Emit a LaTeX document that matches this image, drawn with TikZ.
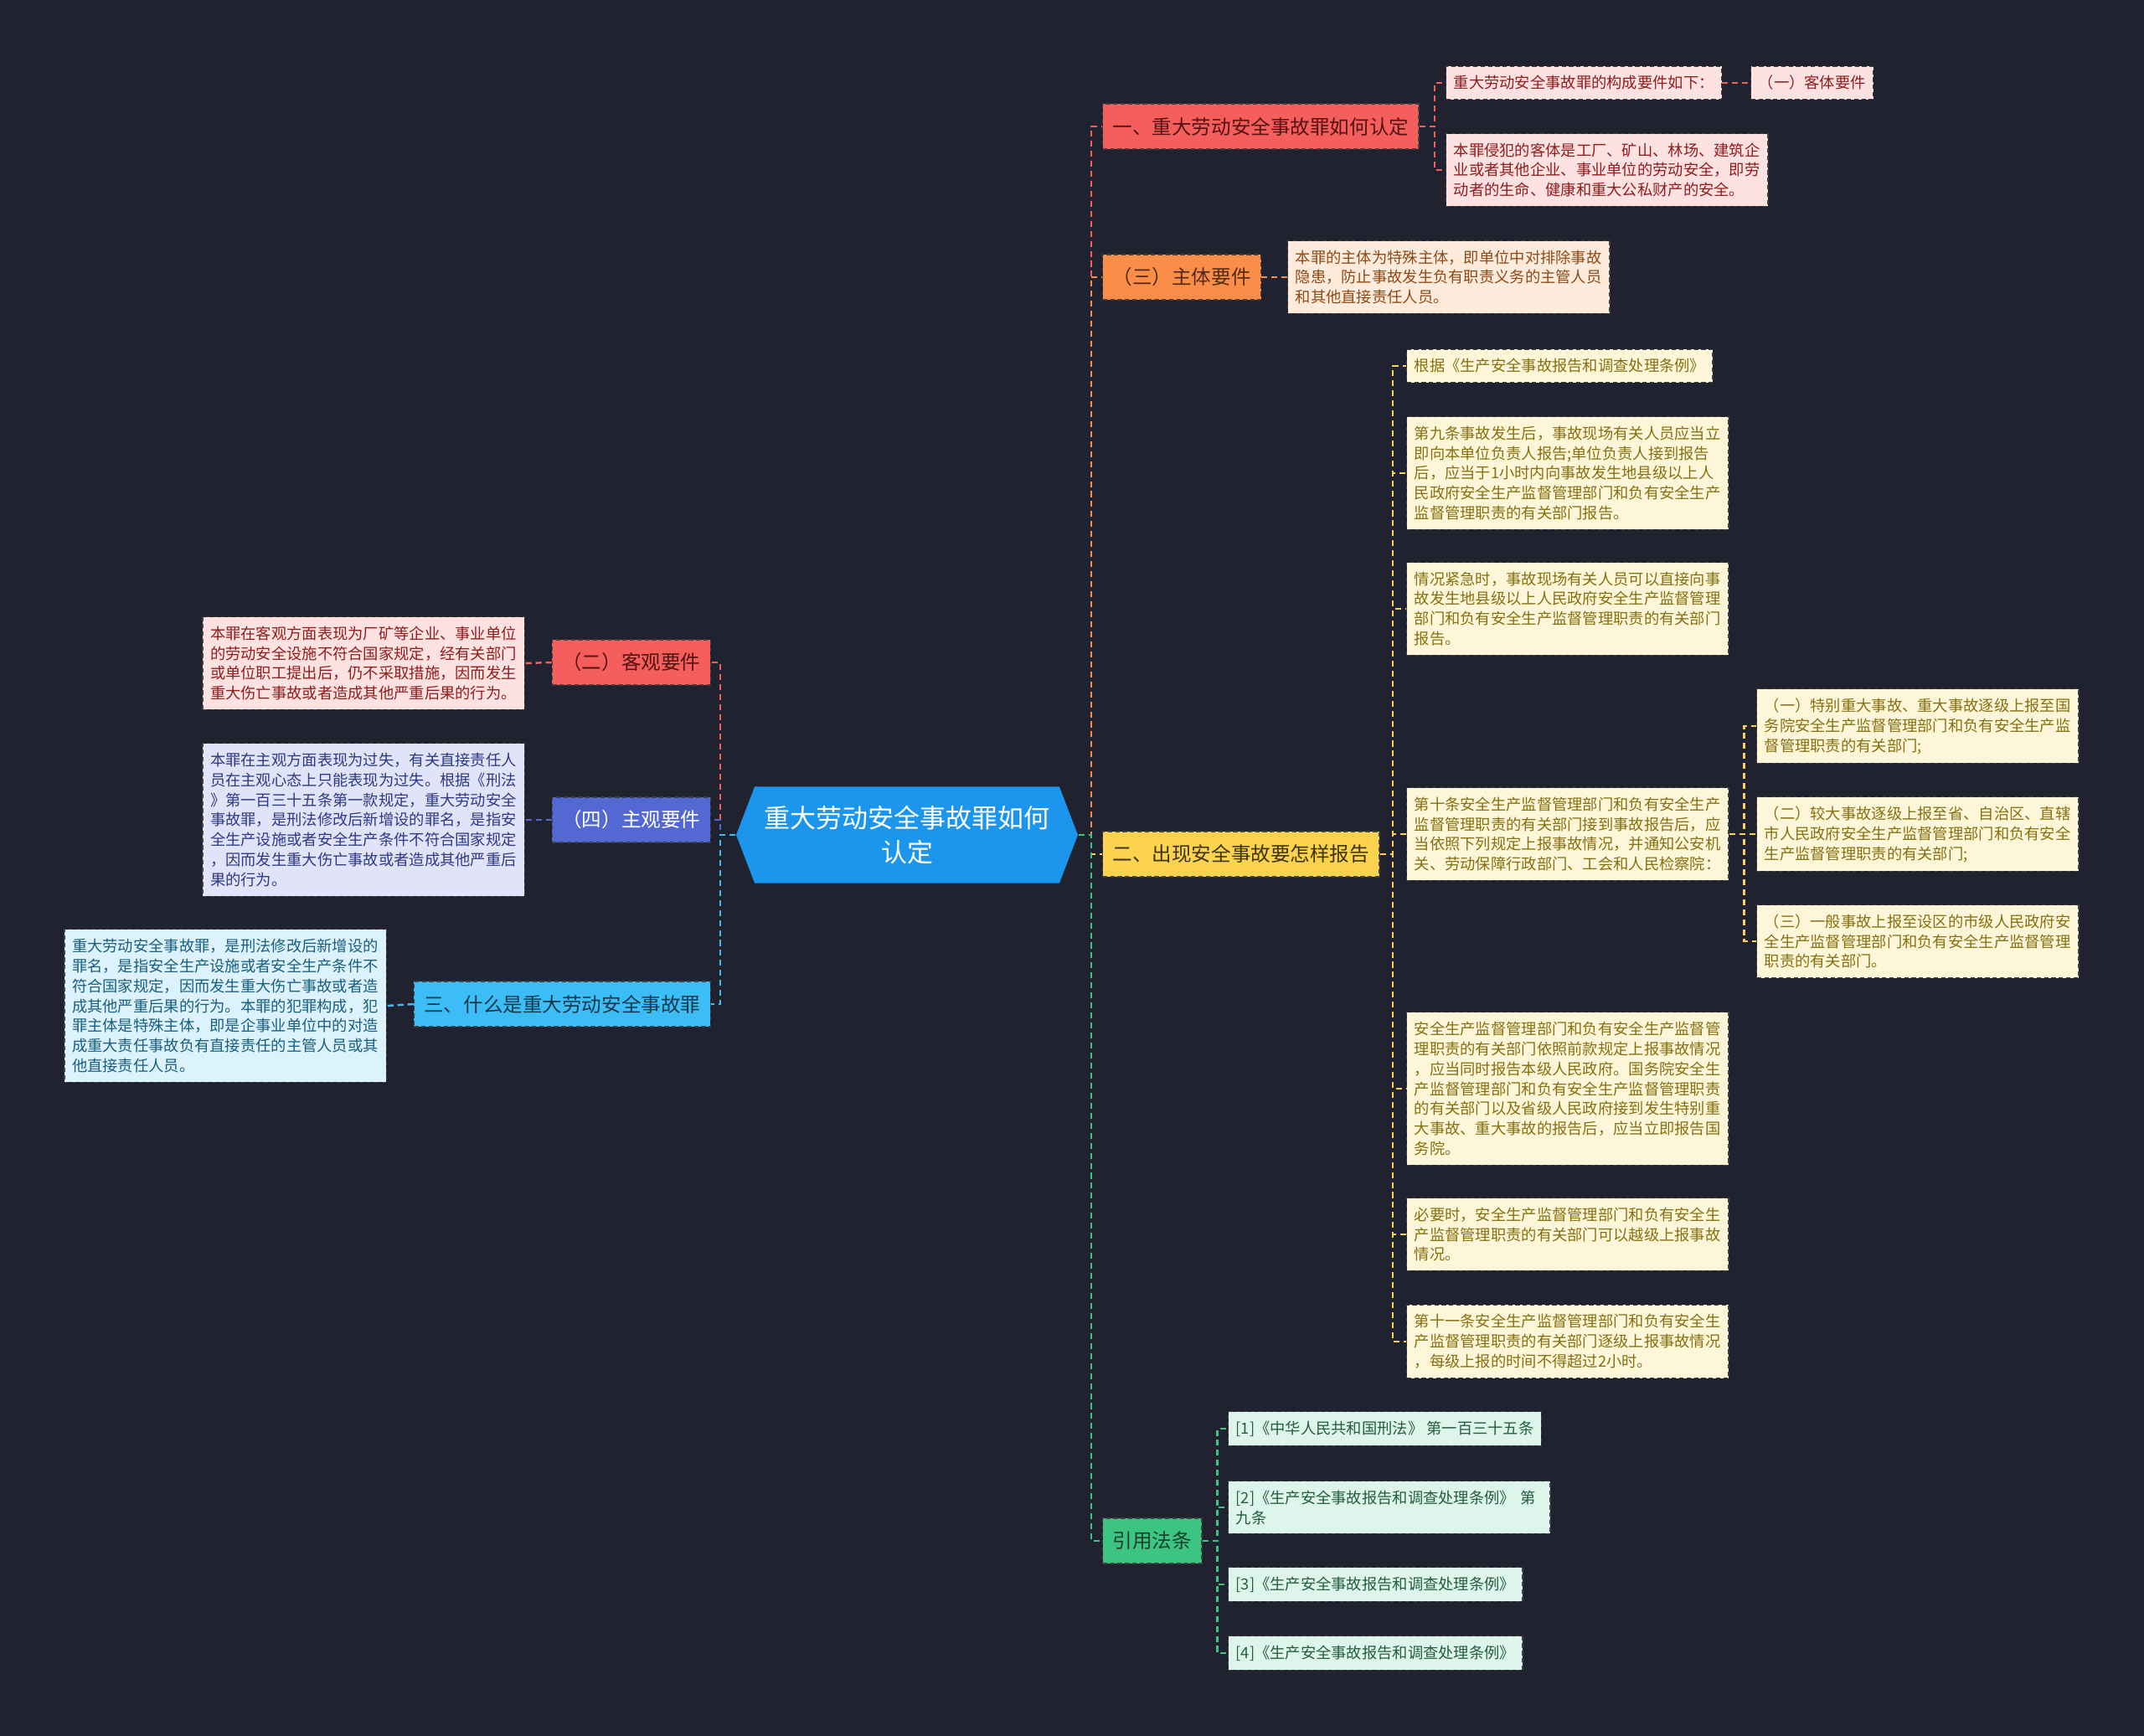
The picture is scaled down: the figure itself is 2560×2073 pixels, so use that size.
\documentclass[tikz,border=0pt]{standalone}
\usepackage{fontspec}
\newfontfamily\cjk{Noto Sans CJK SC}
\usetikzlibrary{shapes.symbols}
\definecolor{bg}{HTML}{20232F}
\definecolor{rootf}{HTML}{1B96EC}
\definecolor{redf}{HTML}{F45F5E}
\definecolor{redl}{HTML}{FDE2E1}
\definecolor{redt}{HTML}{8E1E1E}
\definecolor{orgf}{HTML}{FA8E48}
\definecolor{orgl}{HTML}{FEEBDC}
\definecolor{orgt}{HTML}{8C4A16}
\definecolor{yelf}{HTML}{FCD34E}
\definecolor{yell}{HTML}{FEF6D8}
\definecolor{yelt}{HTML}{857012}
\definecolor{grnf}{HTML}{3CC480}
\definecolor{grnl}{HTML}{DDF5EA}
\definecolor{grnt}{HTML}{245C44}
\definecolor{purf}{HTML}{5468D4}
\definecolor{purl}{HTML}{E1E4F8}
\definecolor{purt}{HTML}{2E3A84}
\definecolor{blef}{HTML}{3DBDF5}
\definecolor{blel}{HTML}{DCF3FD}
\definecolor{blet}{HTML}{1A5F7E}
\tikzset{
    box/.style={draw=black!75, dash pattern=on 1.5pt off 1pt, line width=0.4pt},
    branch/.style={box, inner xsep=0.12cm, inner ysep=0pt, minimum height=0.54cm, font=\cjk\fontsize{6.7pt}{8pt}\selectfont},
    leaf/.style={box, inner xsep=0.09cm, inner ysep=0.11cm, align=left, font=\cjk\fontsize{5.2pt}{6.8pt}\selectfont},
    leafw/.style={leaf, text width=3.66cm},
    link/.style={dash pattern=on 2pt off 1.4pt, line width=0.7pt},
}
\begin{document}
\begin{tikzpicture}[x=0.01cm, y=-0.01cm]
    \fill[bg] (0,0) rectangle (2560,2073);
    \node[signal, signal to=east and west, signal pointer angle=138, fill=rootf, text=white,
        minimum width=4cm, minimum height=1.15cm, align=center,
        font=\cjk\fontsize{8.8pt}{11.6pt}\selectfont] (root) at (1083,997) {重大劳动安全事故罪如何\\认定};
    % right side
    \node[branch, fill=redf, text=redt!60!black, anchor=west] (b1) at (1316,151) {一、重大劳动安全事故罪如何认定};
    \node[branch, fill=orgf, text=orgt!60!black, anchor=west] (b3) at (1316,331) {（三）主体要件};
    \node[branch, fill=yelf, text=yelt!45!black, anchor=west] (b2) at (1316,1020) {二、出现安全事故要怎样报告};
    \node[branch, fill=grnf, text=grnt!70!black, anchor=west] (b4) at (1316,1840) {引用法条};
    \draw[link, redf] (root.east) -- ++(15,0) |- (b1.west);
    \draw[link, orgf] (root.east) -- ++(15,0) |- (b3.west);
    \draw[link, yelf] (root.east) -- ++(15,0) |- (b2.west);
    \draw[link, grnf] (root.east) -- ++(15,0) |- (b4.west);
    \node[leaf, fill=redl, text=redt, anchor=west] (r11) at (1726,99) {重大劳动安全事故罪的构成要件如下：};
    \node[leaf, fill=redl, text=redt, anchor=west] (r111) at (2090,99) {（一）客体要件};
    \node[leafw, fill=redl, text=redt, anchor=west] (r12) at (1726,203) {本罪侵犯的客体是工厂、矿山、林场、建筑企\\业或者其他企业、事业单位的劳动安全，即劳\\动者的生命、健康和重大公私财产的安全。};
    \foreach \n in {r11,r12}
        \draw[link, redf] (b1.east) -- ++(18,0) |- (\n.west);
    \draw[link, redf] (r11.east) -- (r111.west);
    \node[leafw, fill=orgl, text=orgt, anchor=west] (r31) at (1537,331) {本罪的主体为特殊主体，即单位中对排除事故\\隐患，防止事故发生负有职责义务的主管人员\\和其他直接责任人员。};
    \draw[link, orgf] (b3.east) -- (r31.west);
    \node[leaf, fill=yell, text=yelt, anchor=west] (r21) at (1679,437) {根据《生产安全事故报告和调查处理条例》};
    \node[leafw, fill=yell, text=yelt, anchor=west] (r22) at (1679,565) {第九条事故发生后，事故现场有关人员应当立\\即向本单位负责人报告;单位负责人接到报告\\后，应当于1小时内向事故发生地县级以上人\\民政府安全生产监督管理部门和负有安全生产\\监督管理职责的有关部门报告。};
    \node[leafw, fill=yell, text=yelt, anchor=west] (r23) at (1679,727) {情况紧急时，事故现场有关人员可以直接向事\\故发生地县级以上人民政府安全生产监督管理\\部门和负有安全生产监督管理职责的有关部门\\报告。};
    \node[leafw, fill=yell, text=yelt, anchor=west] (r24) at (1679,996) {第十条安全生产监督管理部门和负有安全生产\\监督管理职责的有关部门接到事故报告后，应\\当依照下列规定上报事故情况，并通知公安机\\关、劳动保障行政部门、工会和人民检察院：};
    \node[leafw, fill=yell, text=yelt, anchor=west] (r25) at (1679,1300) {安全生产监督管理部门和负有安全生产监督管\\理职责的有关部门依照前款规定上报事故情况\\，应当同时报告本级人民政府。国务院安全生\\产监督管理部门和负有安全生产监督管理职责\\的有关部门以及省级人民政府接到发生特别重\\大事故、重大事故的报告后，应当立即报告国\\务院。};
    \node[leafw, fill=yell, text=yelt, anchor=west] (r26) at (1679,1474) {必要时，安全生产监督管理部门和负有安全生\\产监督管理职责的有关部门可以越级上报事故\\情况。};
    \node[leafw, fill=yell, text=yelt, anchor=west] (r27) at (1679,1602) {第十一条安全生产监督管理部门和负有安全生\\产监督管理职责的有关部门逐级上报事故情况\\，每级上报的时间不得超过2小时。};
    \foreach \n in {r21,r22,r23,r24,r25,r26,r27}
        \draw[link, yelf] (b2.east) -- ++(15,0) |- (\n.west);
    \node[leafw, fill=yell, text=yelt, anchor=west] (r241) at (2097,867) {（一）特别重大事故、重大事故逐级上报至国\\务院安全生产监督管理部门和负有安全生产监\\督管理职责的有关部门;};
    \node[leafw, fill=yell, text=yelt, anchor=west] (r242) at (2097,996) {（二）较大事故逐级上报至省、自治区、直辖\\市人民政府安全生产监督管理部门和负有安全\\生产监督管理职责的有关部门;};
    \node[leafw, fill=yell, text=yelt, anchor=west] (r243) at (2097,1124) {（三）一般事故上报至设区的市级人民政府安\\全生产监督管理部门和负有安全生产监督管理\\职责的有关部门。};
    \foreach \n in {r241,r242,r243}
        \draw[link, yelf] (r24.east) -- ++(18,0) |- (\n.west);
    \node[leaf, fill=grnl, text=grnt, anchor=west] (r41) at (1466,1706) {[1]《中华人民共和国刑法》 第一百三十五条};
    \node[leafw, fill=grnl, text=grnt, anchor=west] (r42) at (1466,1800) {[2]《生产安全事故报告和调查处理条例》 第\\九条};
    \node[leaf, fill=grnl, text=grnt, anchor=west] (r43) at (1466,1892) {[3]《生产安全事故报告和调查处理条例》};
    \node[leaf, fill=grnl, text=grnt, anchor=west] (r44) at (1466,1974) {[4]《生产安全事故报告和调查处理条例》};
    \foreach \n in {r41,r42,r43,r44}
        \draw[link, grnf] (b4.east) -- ++(18,0) |- (\n.west);
    % left side
    \node[branch, fill=redf, text=redt!60!black, anchor=east] (l1) at (849,791) {（二）客观要件};
    \node[branch, fill=purf, text=white, anchor=east] (l2) at (849,979) {（四）主观要件};
    \node[branch, fill=blef, text=blet!60!black, anchor=east] (l3) at (849,1199) {三、什么是重大劳动安全事故罪};
    \draw[link, redf] (root.west) -- ++(-18,0) |- (l1.east);
    \draw[link, purf] (root.west) -- ++(-18,0) |- (l2.east);
    \draw[link, blef] (root.west) -- ++(-18,0) |- (l3.east);
    \node[leafw, fill=redl, text=redt, anchor=east] (l11) at (627,792) {本罪在客观方面表现为厂矿等企业、事业单位\\的劳动安全设施不符合国家规定，经有关部门\\或单位职工提出后，仍不采取措施，因而发生\\重大伤亡事故或者造成其他严重后果的行为。};
    \node[leafw, fill=purl, text=purt, anchor=east] (l21) at (627,979) {本罪在主观方面表现为过失，有关直接责任人\\员在主观心态上只能表现为过失。根据《刑法\\》第一百三十五条第一款规定，重大劳动安全\\事故罪，是刑法修改后新增设的罪名，是指安\\全生产设施或者安全生产条件不符合国家规定\\，因而发生重大伤亡事故或者造成其他严重后\\果的行为。};
    \node[leafw, fill=blel, text=blet, anchor=east] (l31) at (462,1201) {重大劳动安全事故罪，是刑法修改后新增设的\\罪名，是指安全生产设施或者安全生产条件不\\符合国家规定，因而发生重大伤亡事故或者造\\成其他严重后果的行为。本罪的犯罪构成，犯\\罪主体是特殊主体，即是企事业单位中的对造\\成重大责任事故负有直接责任的主管人员或其\\他直接责任人员。};
    \draw[link, redf] (l1.west) -- (l11.east);
    \draw[link, purf] (l2.west) -- (l21.east);
    \draw[link, blef] (l3.west) -- (l31.east);
\end{tikzpicture}
\end{document}
